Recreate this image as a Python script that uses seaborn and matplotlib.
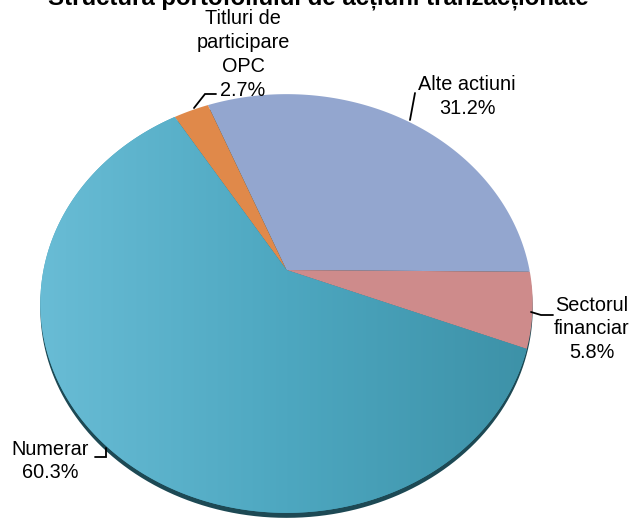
import numpy as np
import matplotlib
matplotlib.use("Agg")
import matplotlib.pyplot as plt
import seaborn as sns
from matplotlib.transforms import Transform
from matplotlib.path import Path
from matplotlib.patches import Circle
from matplotlib.colors import LinearSegmentedColormap

# ---- data ----
categories = ["Alte actiuni", "Titluri de participare OPC", "Numerar", "Sectorul financiar"]
label_texts = ["Alte actiuni", "Titluri de\nparticipare\nOPC", "Numerar", "Sectorul\nfinanciar"]
shares = [31.2, 2.7, 60.3, 5.8]
colors = ["#93A6CF", "#E0894A", "#4AA3BC", "#CE8B8B"]
title = "Structura portofoliului de acțiuni tranzacționate"

sns.set_theme(style="white")
plt.rcParams['font.family'] = ['Liberation Sans', 'DejaVu Sans']

W, H = 636, 519
fig = plt.figure(figsize=(W / 100, H / 100), dpi=100)
ax = fig.add_axes([0, 0, 1, 1])


class Perspective(Transform):
    """Maps the unit disc to a tilted (perspective) disc in pixel coords."""
    input_dims = output_dims = 2
    is_separable = False
    has_inverse = False

    def __init__(self, cx, cy, a, b, k):
        super().__init__()
        self.cx, self.cy, self.a, self.b, self.k = cx, cy, a, b, k

    def transform_non_affine(self, values):
        values = np.asarray(values, float).reshape(-1, 2)
        u, v = values[:, 0], values[:, 1]
        d = 1 + self.k * v
        return np.column_stack([self.cx + self.a * u / d, self.cy - self.b * v / d])

    def transform_path_non_affine(self, path):
        pts, codes = [], []
        t = np.linspace(0, 1, 30)[1:]
        for seg, code in path.iter_bezier(simplify=False):
            if code == Path.MOVETO:
                pts.append(seg.control_points[0:1])
                codes.append(Path.MOVETO)
            else:
                p = seg(t)
                pts.append(p)
                codes += [Path.LINETO] * len(p)
        verts = self.transform_non_affine(np.concatenate(pts))
        return Path(verts, codes)


CX, CY, A, B, K = 286.5, 270.0, 243.0, 204.0, 0.16
persp = Perspective(CX, CY, A, B, K)

# side/shadow of the 3D disc
side = Circle((0, 0), 1, facecolor="#1D4954", edgecolor="none", zorder=1)
ax.add_patch(side)
side.set_transform(Perspective(CX, CY + 5, A, B, K) + ax.transData)

wedges, _ = ax.pie(shares, colors=colors, startangle=-0.5, counterclock=True,
                   radius=1, center=(0, 0), wedgeprops=dict(linewidth=0))
for w in wedges:
    w.set_transform(persp + ax.transData)
    w.set_zorder(2)

# gradient shading on the large slice
cmap = LinearSegmentedColormap.from_list("teal", ["#6ABDD6", "#4DA7C0", "#3C90A6"])
grad = np.linspace(0, 1, 256).reshape(1, -1)
im = ax.imshow(grad, extent=[30, 545, 525, 90], cmap=cmap, aspect="auto",
               zorder=3, interpolation="bilinear")
im.set_clip_path(wedges[2])

ax.set_aspect("auto")
ax.set_xlim(0, W)
ax.set_ylim(H, 0)
ax.axis("off")

# title (partially cut at the top, as in the reference)
fig.text(0.5, 1 - 5 / H, title, ha="center", va="baseline", fontsize=17.3,
         fontweight="bold", color="#000000")

# labels
label_pos = [(467, 96.5), (243, 54.5), (50, 461), (592, 329)]
for txt, val, (x, y) in zip(label_texts, shares, label_pos):
    ax.text(x, y, f"{txt}\n{val:.1f}%", ha="center", va="center", fontsize=14.3,
            multialignment="center", linespacing=1.33, color="#000000", zorder=5)

# leader lines
leaders = [
    [(410, 120), (415, 93)],
    [(194, 108), (205, 94), (216, 94)],
    [(95, 457), (106, 457), (106, 448)],
    [(531, 312), (541, 315), (553, 315)],
]
for pts in leaders:
    xs, ys = zip(*pts)
    ax.plot(xs, ys, color="#000000", lw=1.3, zorder=5, solid_joinstyle="miter")

fig.savefig("out.png", dpi=100)
